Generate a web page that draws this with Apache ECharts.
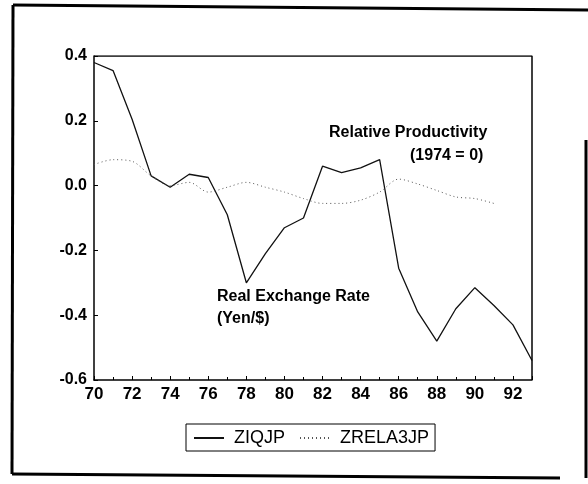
<!DOCTYPE html>
<html>
<head>
<meta charset="utf-8">
<script src="https://cdn.jsdelivr.net/npm/echarts@6/dist/echarts.min.js"></script>
<style>
  html, body { margin:0; padding:0; background:#fff; }
  #main { width:588px; height:484px; }
</style>
</head>
<body>
<div id="main"></div>
<script>
// years 1970..1993 (two-digit labels)
var years = [70,71,72,73,74,75,76,77,78,79,80,81,82,83,84,85,86,87,88,89,90,91,92,93];
// real exchange rate (log, yen/$)
var ziqjp = [0.38,0.355,0.205,0.03,-0.005,0.035,0.025,-0.09,-0.30,-0.21,-0.13,-0.10,0.06,0.04,0.055,0.08,-0.255,-0.39,-0.48,-0.38,-0.315,-0.37,-0.43,-0.54];
// relative productivity, ends in 1991
var zrela3jp = [0.065,0.08,0.075,0.03,0.0,0.01,-0.02,-0.005,0.01,-0.005,-0.02,-0.04,-0.055,-0.055,-0.045,-0.02,0.02,0.005,-0.015,-0.035,-0.04,-0.055];

function pairs(xs, ys){
  var out = [];
  for(var i=0;i<ys.length;i++){ out.push([xs[i], ys[i]]); }
  return out;
}

var chart = echarts.init(document.getElementById('main'));
var font = 'Liberation Sans, Arial, sans-serif';

chart.setOption({
  animation: false,
  backgroundColor: '#fff',
  grid: { left: 94, right: 56, top: 56, bottom: 104 },
  xAxis: {
    type: 'value', min: 70, max: 93, interval: 2,
    axisLine: { show: true, onZero: false, lineStyle: { color: '#000', width: 1.5 } },
    axisTick: { show: true, inside: true, length: 4, lineStyle: { color: '#000' } },
    minorTick: { show: true, splitNumber: 2, length: 3, lineStyle: { color: '#000' } },
    axisLabel: { color: '#000', fontFamily: font, fontSize: 17, fontWeight: 'bold', margin: 6,
      showMaxLabel: false, formatter: function(v){ return v > 92 ? '' : String(v); } },
    splitLine: { show: false }
  },
  yAxis: {
    type: 'value', min: -0.6, max: 0.4, interval: 0.2,
    axisLine: { show: true, onZero: false, lineStyle: { color: '#000', width: 1.5 } },
    axisTick: { show: true, inside: true, length: 4, lineStyle: { color: '#000' } },
    axisLabel: { color: '#000', fontFamily: font, fontSize: 16, fontWeight: 'bold', margin: 7,
      formatter: function(v){ return v.toFixed(1); } },
    splitLine: { show: false }
  },
  legend: {
    left: 186, top: 424,
    borderColor: '#000', borderWidth: 1, padding: [5, 6, 4, 7],
    itemGap: 14, itemWidth: 30, itemHeight: 10,
    itemStyle: { opacity: 0 },
    textStyle: { color: '#000', fontFamily: font, fontSize: 18, padding: [0, 0, 0, 5] },
    data: ['ZIQJP', 'ZRELA3JP']
  },
  series: [
    {
      name: 'ZIQJP', type: 'line', symbol: 'none',
      data: pairs(years, ziqjp),
      lineStyle: { color: '#111', width: 1.3 },
      itemStyle: { color: '#111' }
    },
    {
      name: 'ZRELA3JP', type: 'line', symbol: 'none', smooth: 0.3,
      data: pairs(years, zrela3jp),
      lineStyle: { color: '#555', width: 1, type: [1, 3] },
      itemStyle: { color: '#555' }
    },
    {
      // top and right border of plot area
      name: 'frame', type: 'line', symbol: 'none', silent: true,
      data: [[70, 0.4], [93, 0.4], [93, -0.6]],
      lineStyle: { color: '#000', width: 1.5 }
    }
  ],
  graphic: [
    { type: 'polyline', shape: { points: [[586,140],[586,478]] }, style: { stroke:'#000', lineWidth: 3 } },
    { type: 'polyline', shape: { points: [[13,5],[588,10]] }, style: { stroke:'#000', lineWidth: 3 } },
    { type: 'polyline', shape: { points: [[13,5],[12,474]] }, style: { stroke:'#000', lineWidth: 3 } },
    { type: 'polyline', shape: { points: [[12,474],[560,478]] }, style: { stroke:'#000', lineWidth: 3 } },
    { type: 'text', left: 329, top: 125, style: { text: 'Relative Productivity', fill:'#000', font: 'bold 16px ' + font } },
    { type: 'text', left: 410, top: 148, style: { text: '(1974 = 0)', fill:'#000', font: 'bold 16px ' + font } },
    { type: 'text', left: 217, top: 289, style: { text: 'Real Exchange Rate', fill:'#000', font: 'bold 16px ' + font } },
    { type: 'text', left: 217, top: 311, style: { text: '(Yen/$)', fill:'#000', font: 'bold 16px ' + font } }
  ]
});
</script>
</body>
</html>
